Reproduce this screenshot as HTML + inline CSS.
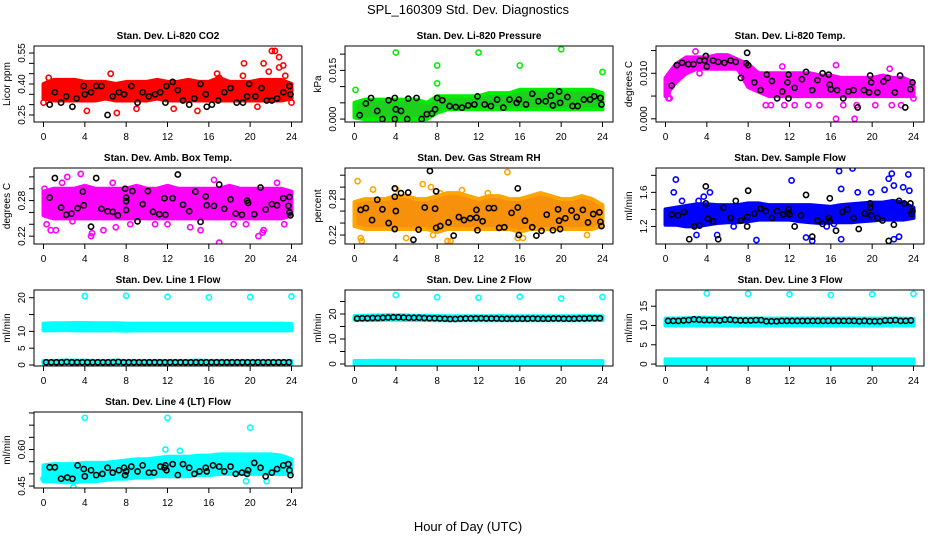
<!DOCTYPE html>
<html><head><meta charset="utf-8"><title>SPL_160309 Std. Dev. Diagnostics</title>
<style>
html,body{margin:0;padding:0;background:#fff;}
svg{display:block;font-family:"Liberation Sans",sans-serif;}
</style></head>
<body>
<svg id="fig" width="936" height="540" viewBox="0 0 936 540">
<text x="468" y="14" font-size="13" text-anchor="middle">SPL_160309  Std. Dev. Diagnostics</text>
<text x="468" y="531" font-size="13" text-anchor="middle">Hour of Day (UTC)</text>
</svg>
<script>
// ---------- Panel 1: CO2 ----------
const co2BandLo = [0.33,0.32,0.32,0.32,0.32,0.32,0.33,0.32,0.32,0.32,0.32,0.33,0.32,0.32,0.32,0.32,0.32,0.32,0.32,0.32,0.32,0.32,0.32,0.32,0.33];
const co2BandHi = [0.40,0.42,0.42,0.42,0.41,0.41,0.41,0.40,0.41,0.41,0.41,0.42,0.41,0.41,0.42,0.41,0.41,0.43,0.41,0.41,0.41,0.42,0.42,0.42,0.40];
const co2OutX = [0.0,0.5,4.2,6.5,7.1,9.0,12.6,14.9,19.4,19.3,20.7,21.3,21.8,22.1,22.4,22.8,22.8,23.2,23.4,24.0,16.8,17.0];
const co2OutY = [0.31,0.43,0.27,0.45,0.26,0.28,0.28,0.27,0.50,0.44,0.29,0.50,0.46,0.56,0.56,0.53,0.48,0.49,0.44,0.31,0.45,0.43];
const co2BlkX = [0.6,1.1,1.7,2.2,2.8,3.2,3.9,4.0,4.6,5.1,5.6,6.2,6.7,7.3,7.8,8.5,9.1,9.6,10.2,10.8,11.3,11.8,11.9,12.5,13.0,13.5,14.1,14.6,15.2,15.7,15.8,16.3,16.9,17.5,18.1,18.7,19.3,19.7,19.9,20.5,21.1,21.6,22.1,22.6,23.2,23.8,23.9];
const co2BlkY = [0.30,0.36,0.31,0.34,0.29,0.33,0.39,0.35,0.36,0.39,0.39,0.25,0.34,0.36,0.35,0.39,0.31,0.36,0.34,0.35,0.36,0.31,0.39,0.41,0.37,0.32,0.30,0.33,0.40,0.35,0.29,0.30,0.32,0.36,0.38,0.31,0.31,0.34,0.40,0.34,0.38,0.32,0.32,0.33,0.36,0.39,0.35];
// ---------- Panel 2: Pressure ----------
const prsBandLo = [0.0005,0,0,0,0,0,0,0,0.002,0.003,0.003,0.003,0.003,0.003,0.003,0.003,0.003,0.003,0.003,0.003,0.003,0.003,0.003,0.003,0.003];
const prsBandHi = [0.005,0.006,0.006,0.006,0.006,0.006,0.006,0.005,0.007,0.007,0.007,0.007,0.007,0.008,0.008,0.008,0.009,0.009,0.009,0.009,0.009,0.009,0.009,0.009,0.008];
const prsOutX = [0.1,4.0,12.0,20.0,8.0,16.0,24.0,8.0];
const prsOutY = [0.009,0.0205,0.0205,0.0215,0.0165,0.0165,0.0145,0.011];
const prsBlkX = [0.5,1.1,1.6,2.2,2.7,3.3,3.9,3.9,4.0,4.5,5.2,5.1,6.0,6.5,7.0,7.5,7.8,8.0,8.5,9.2,9.8,10.4,11.0,11.6,11.9,12.6,13.2,13.8,14.4,15.0,15.7,15.9,16.6,17.2,17.8,18.5,19.0,19.2,19.8,19.9,20.6,21.1,21.6,22.2,22.8,23.2,23.8,23.9];
const prsBlkY = [0.0012,0.0048,0.0065,0.0025,0.0,0.0058,0.0065,0.0,0.0030,0.0025,0.0063,0.0,0.0065,0.0,0.0015,0.0017,0.0030,0.0065,0.0058,0.0040,0.0037,0.0035,0.0042,0.0045,0.0070,0.0045,0.0040,0.0060,0.0035,0.0060,0.0050,0.0060,0.0045,0.0078,0.0055,0.0055,0.0072,0.0042,0.0085,0.0050,0.0068,0.0040,0.0040,0.0060,0.0060,0.0070,0.0065,0.0045];
// ---------- Panel 3: Li-820 Temp ----------
const tmpBandLo = [0.005,0.008,0.010,0.011,0.011,0.011,0.011,0.011,0.007,0.006,0.005,0.005,0.005,0.005,0.005,0.005,0.005,0.005,0.005,0.005,0.005,0.005,0.005,0.005,0.005];
const tmpBandHi = [0.009,0.012,0.0135,0.0135,0.0135,0.014,0.014,0.013,0.012,0.010,0.010,0.010,0.010,0.010,0.010,0.0095,0.0095,0.009,0.009,0.009,0.009,0.0095,0.009,0.009,0.008];
const tmpOutX = [0.2,0.3,0.4,2.9,3.9,3.3,9.7,10.2,11.5,12.5,13.8,14.9,16.5,18.3,16.5,17.2,18.5,20.3,21.9,22.8,24.0,11.3,21.7];
const tmpOutY = [0.0055,0.0045,0.0045,0.0148,0.0138,0.010,0.003,0.003,0.003,0.003,0.003,0.003,0.0,0.0,0.0118,0.003,0.003,0.003,0.003,0.003,0.0045,0.0115,0.011];
const tmpBlkX = [0.6,1.1,1.6,2.2,2.7,3.3,3.8,3.9,4.0,4.6,5.1,5.7,6.3,6.8,7.3,7.8,7.9,8.0,8.6,9.2,9.8,10.3,10.8,11.3,11.8,11.9,11.9,12.5,13.2,13.6,14.2,14.7,15.2,15.8,15.9,16.0,16.6,17.2,17.7,18.2,18.6,19.2,19.7,19.8,19.9,20.5,21.1,21.5,22.2,22.7,23.2,23.7,23.9];
const tmpBlkY = [0.0073,0.0118,0.0123,0.0120,0.0120,0.0128,0.0128,0.0138,0.0115,0.0128,0.0125,0.0123,0.0128,0.0125,0.0090,0.0122,0.0145,0.0118,0.0080,0.0063,0.0097,0.0083,0.0045,0.0060,0.0080,0.0097,0.0045,0.0068,0.0087,0.0103,0.0063,0.0085,0.0100,0.0097,0.0075,0.0065,0.0063,0.0045,0.0060,0.0063,0.0025,0.0063,0.0058,0.0095,0.0080,0.0058,0.0082,0.0090,0.0058,0.0095,0.0025,0.0065,0.0080];
// ---------- Panel 4: Amb Box Temp ----------
const ambBandLo = [0.255,0.25,0.25,0.25,0.25,0.25,0.25,0.25,0.25,0.25,0.25,0.25,0.25,0.25,0.25,0.25,0.25,0.25,0.25,0.25,0.25,0.25,0.25,0.25,0.255];
const ambBandHi = [0.295,0.30,0.30,0.30,0.305,0.30,0.30,0.30,0.30,0.305,0.30,0.30,0.305,0.30,0.30,0.30,0.30,0.30,0.305,0.30,0.30,0.30,0.30,0.30,0.295];
const ambOutX = [0.3,0.7,1.2,1.8,2.3,3.6,4.6,4.7,5.8,6.7,7.0,9.0,12.0,14.2,15.2,16.5,17.0,19.6,20.8,21.2,21.3,22.6,23.3,0.1,2.8,8.4,10.8,18.4];
const ambOutY = [0.24,0.23,0.23,0.31,0.32,0.325,0.22,0.225,0.23,0.31,0.235,0.30,0.24,0.235,0.23,0.315,0.209,0.24,0.22,0.226,0.23,0.31,0.24,0.30,0.245,0.24,0.24,0.24];
const ambBlkX = [0.6,1.1,1.7,2.2,2.7,3.3,3.8,3.9,4.6,5.1,5.6,6.2,6.7,7.2,7.9,8.0,8.0,8.0,8.6,9.1,9.6,10.1,10.6,11.2,11.7,11.8,12.5,13.0,13.5,14.1,14.7,15.2,15.7,15.8,16.5,17.0,17.5,18.1,18.6,19.2,19.7,19.8,20.4,21.0,21.5,22.1,22.6,23.2,23.7,23.8,23.8,23.9];
const ambBlkY = [0.285,0.318,0.268,0.256,0.258,0.267,0.295,0.272,0.236,0.318,0.266,0.262,0.261,0.255,0.300,0.285,0.279,0.264,0.296,0.245,0.274,0.296,0.261,0.257,0.284,0.256,0.284,0.324,0.273,0.262,0.295,0.244,0.287,0.272,0.271,0.307,0.266,0.282,0.258,0.256,0.280,0.276,0.257,0.302,0.265,0.274,0.272,0.284,0.271,0.286,0.260,0.255];
// ---------- Panel 5: Gas Stream RH ----------
const rhBandLo = [0.235,0.23,0.23,0.23,0.23,0.23,0.23,0.23,0.225,0.23,0.23,0.23,0.23,0.23,0.23,0.23,0.225,0.23,0.23,0.23,0.23,0.23,0.23,0.23,0.235];
const rhBandHi = [0.275,0.28,0.28,0.28,0.285,0.285,0.28,0.28,0.285,0.29,0.29,0.285,0.28,0.285,0.285,0.28,0.28,0.285,0.29,0.285,0.28,0.28,0.285,0.28,0.27];
const rhOutX = [0.3,1.8,4.0,6.6,7.4,9.0,9.3,14.8,12.9,0.6,0.7,5.0,7.6,15.8,16.3,22.5,8.3,10.4];
const rhOutY = [0.31,0.296,0.297,0.305,0.30,0.21,0.21,0.325,0.29,0.215,0.21,0.215,0.22,0.215,0.215,0.22,0.29,0.295];
const rhBlkX = [0.6,1.1,1.7,2.2,2.7,3.3,3.9,3.9,3.9,4.0,4.5,5.2,5.7,6.2,6.8,7.3,7.8,7.9,7.9,8.3,9.1,9.6,10.1,10.6,11.2,11.8,11.9,11.8,12.4,13.0,13.5,14.0,14.5,15.2,15.8,15.8,15.9,16.5,17.2,17.6,18.1,18.6,19.2,19.7,19.8,19.9,20.4,21.0,21.5,22.1,22.6,23.1,23.7,23.8,23.9];
const rhBlkY = [0.262,0.265,0.245,0.279,0.263,0.240,0.298,0.284,0.230,0.260,0.290,0.291,0.212,0.229,0.266,0.327,0.264,0.293,0.232,0.235,0.241,0.219,0.250,0.245,0.248,0.249,0.228,0.262,0.243,0.265,0.265,0.232,0.233,0.257,0.266,0.298,0.220,0.244,0.233,0.219,0.227,0.254,0.228,0.263,0.244,0.230,0.248,0.261,0.250,0.262,0.241,0.255,0.258,0.242,0.235];
// ---------- Panel 6: Sample Flow ----------
const sfBandLo = [1.22,1.22,1.2,1.2,1.22,1.24,1.25,1.25,1.26,1.28,1.28,1.28,1.28,1.26,1.25,1.24,1.25,1.25,1.25,1.26,1.27,1.28,1.28,1.28,1.3];
const sfBandHi = [1.4,1.42,1.44,1.46,1.46,1.45,1.45,1.45,1.47,1.47,1.45,1.45,1.45,1.45,1.45,1.44,1.43,1.45,1.46,1.47,1.48,1.48,1.5,1.48,1.42];
const sfOutX = [1.0,0.8,1.6,3.0,3.2,3.7,4.3,5.0,6.6,8.8,12.2,13.6,14.2,16.8,17.0,17.0,18.1,18.6,19.9,21.2,21.6,21.9,22.1,22.1,22.6,23.0,23.5,23.6,15.6,16.3];
const sfOutY = [1.75,1.6,1.5,1.1,1.5,1.55,1.6,1.1,1.2,1.04,1.74,1.07,1.03,1.85,1.64,1.05,1.88,1.6,1.6,1.63,1.76,1.82,1.68,1.05,1.08,1.66,1.81,1.62,1.2,1.23];
const sfBlkX = [0.6,1.2,1.8,2.3,2.8,3.3,3.9,3.9,4.1,4.6,5.1,5.6,6.3,6.8,7.3,7.9,7.9,8.0,8.6,9.2,9.7,10.3,10.8,11.4,11.8,11.9,12.0,12.5,13.1,13.6,14.2,14.7,15.2,15.8,15.9,15.9,16.5,17.1,17.6,18.2,18.7,19.3,19.8,19.8,19.9,20.5,21.0,21.6,22.1,22.6,23.1,23.7,23.8,23.9];
const sfBlkY = [1.34,1.33,1.37,1.05,1.20,1.21,1.67,1.47,1.29,1.26,1.05,1.42,1.30,1.50,1.27,1.31,1.20,1.62,1.35,1.41,1.38,1.30,1.38,1.34,1.36,1.40,1.34,1.20,1.33,1.57,1.08,1.27,1.23,1.30,1.26,1.53,1.15,1.37,1.40,1.30,1.17,1.35,1.42,1.47,1.33,1.30,1.27,1.03,1.22,1.50,1.47,1.47,1.35,1.38];
// ---------- Panel 7: Line 1 Flow ----------
const l1BandLo = [10.3,10.3,10.4,10.3,10.3,10.3,10.3,10.3,10.2,10.3,10.3,10.3,10.3,10.3,10.3,10.3,10.3,10.3,10.3,10.3,10.3,10.3,10.3,10.3,10.3];
const l1BandHi = [12.3,12.4,12.4,12.5,12.5,12.4,12.4,12.4,12.3,12.3,12.3,12.3,12.3,12.3,12.3,12.3,12.3,12.3,12.3,12.3,12.3,12.3,12.3,12.3,12.2];
const l1Band2Lo = [0.3,0.3,0.3,0.3,0.3,0.3,0.3,0.3,0.3,0.3,0.3,0.3,0.3,0.3,0.3,0.3,0.3,0.3,0.3,0.3,0.3,0.3,0.3,0.3,0.3];
const l1Band2Hi = [1.2,1.2,1.3,1.3,1.3,1.2,1.2,1.3,1.2,1.2,1.2,1.2,1.2,1.2,1.2,1.3,1.2,1.2,1.2,1.2,1.2,1.2,1.2,1.2,1.2];
const l1OutX = [4,8,12,16,20,24];
const l1OutY = [20.5,20.6,20.3,20.1,20.2,20.4];
const l1BlkY = [0.8,0.8,0.8,0.8,0.9,0.8,0.8,0.8,0.8,0.8,0.8,0.8,0.8,0.8,0.9,0.8,0.8,0.8,0.8,0.8,0.8,0.8,0.8,0.8,0.8,0.8,0.8,0.8,0.8,0.8,0.8,0.8,0.8,0.8,0.8,0.8,0.8,0.8,0.8,0.8,0.8,0.8,0.8,0.8,0.8,0.8,0.8,0.8];
// ---------- Panel 8: Line 2 Flow ----------
const l2BandLo = [17.6,17.6,17.6,17.7,17.7,17.6,17.6,17.6,17.5,17.5,17.5,17.5,17.5,17.5,17.5,17.5,17.5,17.5,17.5,17.5,17.5,17.5,17.5,17.5,17.6];
const l2BandHi = [19.2,19.3,19.4,19.5,19.5,19.4,19.3,19.3,19.2,19.1,19.1,19.1,19.1,19.1,19.2,19.1,19.1,19.1,19.1,19.1,19.1,19.1,19.2,19.2,19.1];
const l2Band2Lo = [0.0,0.0,0.0,0.0,0.0,0.0,0.0,0.0,0.0,0.0,0.0,0.0,0.0,0.0,0.0,0.0,0.0,0.0,0.0,0.0,0.0,0.0,0.0,0.0,0.0];
const l2Band2Hi = [1.2,1.2,1.3,1.3,1.3,1.2,1.2,1.2,1.2,1.2,1.2,1.2,1.2,1.2,1.2,1.2,1.2,1.2,1.2,1.2,1.2,1.2,1.2,1.2,1.2];
const l2OutX = [4,8,12,16,20,24];
const l2OutY = [27.6,26.7,26.5,26.9,26.2,26.8];
const l2BlkY = [18.2,18.3,18.3,18.4,18.4,18.5,18.6,18.7,18.7,18.6,18.5,18.5,18.5,18.4,18.3,18.3,18.2,18.1,18.0,18.0,18.1,18.2,18.2,18.2,18.3,18.2,18.2,18.2,18.1,18.1,18.1,18.1,18.1,18.1,18.2,18.1,18.1,18.1,18.2,18.2,18.1,18.1,18.1,18.2,18.2,18.3,18.3,18.3];
// ---------- Panel 9: Line 3 Flow ----------
const l3BandLo = [10.0,10.0,10.0,10.0,10.0,10.0,10.0,10.0,10.0,10.0,10.0,10.0,10.0,10.0,10.0,10.0,10.0,10.0,10.0,10.0,10.0,10.0,10.0,10.0,10.0];
const l3BandHi = [11.8,11.8,11.9,12.0,12.0,11.9,11.8,11.8,11.8,11.8,11.8,11.8,11.8,11.8,11.8,11.8,11.8,11.8,11.8,11.8,11.8,11.8,11.8,11.8,11.7];
const l3Band2Lo = [0.1,0.1,0.1,0.1,0.1,0.1,0.1,0.1,0.1,0.1,0.1,0.1,0.1,0.1,0.1,0.1,0.1,0.1,0.1,0.1,0.1,0.1,0.1,0.1,0.1];
const l3Band2Hi = [1.2,1.2,1.2,1.2,1.2,1.2,1.2,1.2,1.2,1.2,1.2,1.2,1.2,1.2,1.2,1.2,1.2,1.2,1.2,1.2,1.2,1.2,1.2,1.2,1.2];
const l3OutX = [4,8,12,16,20,24];
const l3OutY = [18.3,18.2,18.1,17.9,18.1,18.2];
const l3BlkY = [11.2,11.2,11.2,11.3,11.4,11.6,11.5,11.4,11.4,11.4,11.3,11.5,11.5,11.4,11.3,11.3,11.3,11.4,11.4,11.1,11.1,11.1,11.2,11.2,11.2,11.2,11.2,11.2,11.2,11.2,11.2,11.2,11.2,11.2,11.2,11.2,11.2,11.1,11.2,11.1,11.1,11.1,11.3,11.3,11.4,11.2,11.2,11.3];
// ---------- Panel 10: Line 4 (LT) Flow ----------
const l4BandLo = [0.47,0.47,0.465,0.465,0.47,0.47,0.475,0.48,0.48,0.485,0.485,0.49,0.49,0.49,0.49,0.495,0.495,0.5,0.5,0.5,0.5,0.5,0.5,0.5,0.5];
const l4BandHi = [0.535,0.54,0.54,0.54,0.545,0.545,0.545,0.55,0.555,0.56,0.56,0.565,0.57,0.57,0.57,0.575,0.575,0.58,0.58,0.58,0.58,0.58,0.58,0.575,0.56];
const l4OutX = [4,12,20,11.8,13.2,19.6,21.6,2.9,0.0];
const l4OutY = [0.73,0.73,0.69,0.60,0.595,0.47,0.47,0.445,0.48];
const l4BlkX = [0.6,1.1,1.7,2.3,2.8,3.3,3.9,4.0,4.6,5.1,5.7,6.2,6.7,7.3,7.8,7.9,8.0,8.5,9.1,9.6,10.2,10.7,11.3,11.7,11.8,11.9,12.5,13.0,13.5,14.1,14.6,15.1,15.7,15.8,16.4,17.0,17.5,18.1,18.6,19.2,19.7,19.8,20.4,21.0,21.5,22.1,22.6,23.2,23.7,23.8,23.9];
const l4BlkY = [0.527,0.527,0.48,0.485,0.48,0.535,0.52,0.49,0.515,0.495,0.5,0.525,0.505,0.515,0.525,0.495,0.51,0.53,0.51,0.535,0.505,0.505,0.53,0.525,0.535,0.515,0.54,0.495,0.54,0.525,0.5,0.51,0.525,0.51,0.535,0.53,0.51,0.53,0.5,0.505,0.5,0.515,0.545,0.525,0.49,0.505,0.52,0.535,0.54,0.515,0.495];

const hoursTicks = [0,4,8,12,16,20,24];

function halfHours(n){ const a=[]; for(let i=0;i<n;i++) a.push((i+0.5)*24/n); return a; }

const panels = [
 {title:'Stan. Dev. Li-820 CO2', ylab:'Licor ppm', col:0,row:0, ylim:[0.216,0.584], ticks:[0.25,0.30,0.35,0.40,0.45,0.50,0.55], labels:['0.25','','','0.40','','','0.55'], color:'#ff0000', band:'#ff0000', bands:[[co2BandLo,co2BandHi]], ox:co2OutX, oy:co2OutY, bx:co2BlkX, by:co2BlkY},
 {title:'Stan. Dev. Li-820 Pressure', ylab:'kPa', col:1,row:0, ylim:[-0.0009,0.0225], ticks:[0,0.005,0.010,0.015,0.020], labels:['0.000','','','0.015',''], color:'#00ee00', band:'#1ecf1e', bands:[[prsBandLo,prsBandHi]], ox:prsOutX, oy:prsOutY, bx:prsBlkX, by:prsBlkY},
 {title:'Stan. Dev. Li-820 Temp.', ylab:'degrees C', col:2,row:0, ylim:[-0.0007,0.016], ticks:[0,0.005,0.010,0.015], labels:['0.000','','0.010',''], color:'#ff00ff', band:'#ff00ff', bands:[[tmpBandLo,tmpBandHi]], ox:tmpOutX, oy:tmpOutY, bx:tmpBlkX, by:tmpBlkY},
 {title:'Stan. Dev. Amb. Box Temp.', ylab:'degrees C', col:0,row:1, ylim:[0.2067,0.335], ticks:[0.22,0.24,0.26,0.28,0.30,0.32], labels:['0.22','','','0.28','',''], color:'#ff00ff', band:'#ff00ff', bands:[[ambBandLo,ambBandHi]], ox:ambOutX, oy:ambOutY, bx:ambBlkX, by:ambBlkY},
 {title:'Stan. Dev. Gas Stream RH', ylab:'percent', col:1,row:1, ylim:[0.205,0.332], ticks:[0.22,0.24,0.26,0.28,0.30,0.32], labels:['0.22','','','0.28','',''], color:'#ffa500', band:'#f7900a', bands:[[rhBandLo,rhBandHi]], ox:rhOutX, oy:rhOutY, bx:rhBlkX, by:rhBlkY},
 {title:'Stan. Dev. Sample Flow', ylab:'ml/min', col:2,row:1, ylim:[0.994,1.886], ticks:[1.2,1.4,1.6,1.8], labels:['1.2','','1.6',''], color:'#0000ff', band:'#0000ff', bands:[[sfBandLo,sfBandHi]], ox:sfOutX, oy:sfOutY, bx:sfBlkX, by:sfBlkY},
 {title:'Stan. Dev. Line 1 Flow', ylab:'ml/min', col:0,row:2, ylim:[-0.3,22.3], ticks:[0,5,10,15,20], labels:['0','5','10','','20'], color:'#00ffff', band:'#00ffff', bands:[[l1BandLo,l1BandHi],[l1Band2Lo,l1Band2Hi]], ox:l1OutX, oy:l1OutY, bx:halfHours(l1BlkY.length), by:l1BlkY},
 {title:'Stan. Dev. Line 2 Flow', ylab:'ml/min', col:1,row:2, ylim:[-0.8,29.6], ticks:[0,5,10,15,20,25], labels:['0','','10','','20',''], color:'#00ffff', band:'#00ffff', bands:[[l2BandLo,l2BandHi],[l2Band2Lo,l2Band2Hi]], ox:l2OutX, oy:l2OutY, bx:halfHours(l2BlkY.length), by:l2BlkY},
 {title:'Stan. Dev. Line 3 Flow', ylab:'ml/min', col:2,row:2, ylim:[-0.5,19.2], ticks:[0,5,10,15], labels:['0','5','10','15'], color:'#00ffff', band:'#00ffff', bands:[[l3BandLo,l3BandHi],[l3Band2Lo,l3Band2Hi]], ox:l3OutX, oy:l3OutY, bx:halfHours(l3BlkY.length), by:l3BlkY},
 {title:'Stan. Dev. Line 4 (LT) Flow', ylab:'ml/min', col:0,row:3, ylim:[0.442,0.754], ticks:[0.45,0.50,0.55,0.60,0.65,0.70,0.75], labels:['0.45','','','0.60','','',''], color:'#00ffff', band:'#00ffff', bands:[[l4BandLo,l4BandHi]], ox:l4OutX, oy:l4OutY, bx:l4BlkX, by:l4BlkY}
];

const NS='http://www.w3.org/2000/svg';
const svg=document.getElementById('fig');
function mk(tag,attrs,parent){ const e=document.createElementNS(NS,tag); for(const k in attrs) e.setAttribute(k,attrs[k]); (parent||svg).appendChild(e); return e; }
function slug(s){ return s.toLowerCase().replace(/[^a-z0-9]+/g,'-').replace(/^-|-$/g,''); }

panels.forEach((p,pi)=>{
  const L=34+311*p.col, T=46+122*p.row, W=268, H=76;
  const sx=h=>L+9.5+h*(248/24);
  const sy=v=>T+H-(v-p.ylim[0])/(p.ylim[1]-p.ylim[0])*H;
  const name=slug(p.title.replace('Stan. Dev. ',''));
  const g=mk('g',{});
  
  
  const cid='clip'+pi;
  const cp=mk('clipPath',{id:cid},g); mk('rect',{x:L,y:T,width:W,height:H},cp);
  const marks=mk('g',{'clip-path':'url(#'+cid+')'},g);
  
  
  // bands (dense colored points cloud)
  p.bands.forEach((b,bi)=>{
    const lo=b[0], hi=b[1]; const n=lo.length; let pts=[];
    for(let i=0;i<n;i++) pts.push(sx(i*24/(n-1)).toFixed(1)+','+sy(hi[i]).toFixed(1));
    for(let i=n-1;i>=0;i--) pts.push(sx(i*24/(n-1)).toFixed(1)+','+sy(lo[i]).toFixed(1));
    const poly=mk('polygon',{points:pts.join(' '),fill:p.band,stroke:p.color,'stroke-width':4,'stroke-linejoin':'round'},marks);
    
    
  });
  // colored outliers
  p.ox.forEach((x,i)=>{
    const c=mk('circle',{cx:sx(x),cy:sy(p.oy[i]),r:2.6,fill:'none',stroke:p.color,'stroke-width':1.6},marks);
    
    
  });
  // black points
  p.bx.forEach((x,i)=>{
    const c=mk('circle',{cx:sx(x),cy:sy(p.by[i]),r:2.6,fill:'none',stroke:'#000','stroke-width':1.6},marks);
    
    
  });
  // box
  const box=mk('rect',{x:L,y:T,width:W,height:H,fill:'none',stroke:'#000','stroke-width':1},g);
  
  
  // x axis
  hoursTicks.forEach(h=>{
    mk('line',{x1:sx(h),x2:sx(h),y1:T+H,y2:T+H+5,stroke:'#000','stroke-width':1},g);
    const t=mk('text',{x:sx(h),y:T+H+18,'font-size':10,'text-anchor':'middle'},g);
    t.textContent=String(h);
    
    
  });
  // y axis
  p.ticks.forEach((v,i)=>{
    const y=sy(v);
    mk('line',{x1:L-5,x2:L,y1:y,y2:y,stroke:'#000','stroke-width':1},g);
    if(p.labels[i]){
      const t=mk('text',{x:0,y:0,'font-size':10,'text-anchor':'middle',transform:'translate('+(L-9)+','+y+') rotate(-90)'},g);
      t.textContent=p.labels[i];
      
      
    }
  });
  const yl=mk('text',{x:0,y:0,'font-size':10,'text-anchor':'middle',transform:'translate('+(L-24)+','+(T+H/2)+') rotate(-90)'},g);
  yl.textContent=p.ylab;
  
  
  const tt=mk('text',{x:L+W/2,y:T-7,'font-size':10,'font-weight':'bold','text-anchor':'middle'},g);
  tt.textContent=p.title;
  
  
});
</script>
</body></html>
